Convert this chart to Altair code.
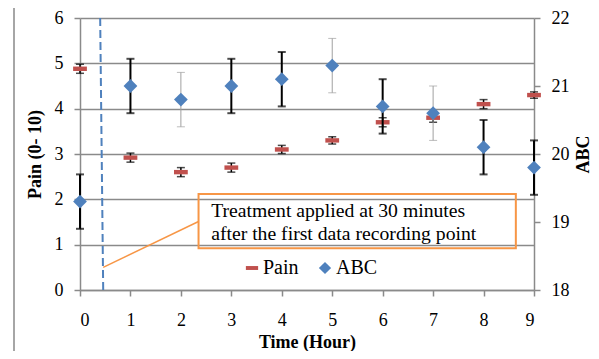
import altair as alt
import pandas as pd

# ---- data ----
hours = [0, 1, 2, 3, 4, 5, 6, 7, 8, 9]
pain = [4.88, 2.92, 2.6, 2.7, 3.1, 3.3, 3.7, 3.8, 4.1, 4.3]
pain_err = [0.1, 0.1, 0.1, 0.1, 0.09, 0.08, 0.1, 0.1, 0.1, 0.07]
abc = [19.3, 21.0, 20.8, 21.0, 21.1, 21.3, 20.7, 20.6, 20.1, 19.8]
abc_err = [0.4, 0.4, 0.4, 0.4, 0.4, 0.4, 0.4, 0.4, 0.4, 0.4]

pain_ticks = [0, 1, 2, 3, 4, 5, 6]
abc_ticks = [18, 19, 20, 21, 22]
series = ["Pain", "ABC"]
annotation_lines = ["Treatment applied at 30 minutes",
                    "after the first data recording point"]

# ---- styles / annotation placement (in data units) ----
abc_err_style = ["bold", "bold", "thin", "bold", "bold", "thin", "bold", "thin", "bold", "bold"]
series_colors = ["#c0504d", "#4f81bd"]
DASH = "M-1,-0.32H1V0.32H-1Z"
GRID = "#8a8a8a"
ORANGE = "#f79646"
FONT = "Liberation Serif"

treat_line = {"x": 0.40, "x2": 0.46, "y": 6, "y2": 0}
box = {"x": 2.35, "x2": 8.64, "y": 2.12, "y2": 0.92}
note = {"x": 2.6, "y": 1.62}
connector = {"x": 0.46, "x2": 2.35, "y": 0.5, "y2": 1.51}

pain_df = pd.DataFrame({
    "hour": hours, "value": pain,
    "lo": [v - e for v, e in zip(pain, pain_err)],
    "hi": [v + e for v, e in zip(pain, pain_err)],
    "series": "Pain",
})
abc_df = pd.DataFrame({
    "hour": hours, "value": abc,
    "lo": [v - e for v, e in zip(abc, abc_err)],
    "hi": [v + e for v, e in zip(abc, abc_err)],
    "series": "ABC", "style": abc_err_style,
})

xs = alt.Scale(domain=[0, 9], nice=False)
yls = alt.Scale(domain=[0, 6], nice=False)
yrs = alt.Scale(domain=[18, 22], nice=False)
AX_X = alt.Axis(values=hours, grid=False, orient="bottom", labelPadding=15, titlePadding=4)
AX_L = alt.Axis(values=pain_ticks, grid=True, orient="left", titlePadding=10)
AX_R = alt.Axis(values=abc_ticks, grid=False, orient="right", titleAngle=-90, titlePadding=23)


def X(f):
    return alt.X(f, scale=xs, axis=AX_X, title="Time (Hour)")


def YL(f):
    return alt.Y(f, scale=yls, axis=AX_L, title="Pain (0- 10)")


def YR(f):
    return alt.Y(f, scale=yrs, axis=AX_R, title="ABC")


color = alt.Color("series:N", scale=alt.Scale(domain=series, range=series_colors),
                  legend=alt.Legend(title=None))
shape = alt.Shape("series:N", scale=alt.Scale(domain=series, range=[DASH, "diamond"]),
                  legend=alt.Legend(title=None))

pb = alt.Chart(pain_df)
pain_rules = pb.mark_rule(color="black", strokeWidth=1.5).encode(
    x=X("hour:Q"), y=YL("lo:Q"), y2="hi:Q")
pain_cap_lo = pb.mark_tick(orient="horizontal", size=8, thickness=1.5, color="black").encode(
    x=X("hour:Q"), y=YL("lo:Q"))
pain_cap_hi = pb.mark_tick(orient="horizontal", size=8, thickness=1.5, color="black").encode(
    x=X("hour:Q"), y=YL("hi:Q"))
pain_pts = pb.mark_point(filled=True, size=190, opacity=1, strokeWidth=0).encode(
    x=X("hour:Q"), y=YL("value:Q"), color=color, shape=shape)

tl = alt.Chart(pd.DataFrame([treat_line])).mark_rule(
    color="#4f81bd", strokeWidth=2, strokeDash=[8, 4]).encode(
    x=X("x:Q"), x2="x2:Q", y=YL("y:Q"), y2="y2:Q")
bx = alt.Chart(pd.DataFrame([box])).mark_rect(
    fillOpacity=0, stroke=ORANGE, strokeWidth=2).encode(
    x=X("x:Q"), x2="x2:Q", y=YL("y:Q"), y2="y2:Q")
tx = alt.Chart(pd.DataFrame([{**note, "t": annotation_lines}])).mark_text(
    align="left", baseline="alphabetic", font=FONT, fontSize=19.7, lineHeight=23,
    color="black").encode(x=X("x:Q"), y=YL("y:Q"), text="t")
cn = alt.Chart(pd.DataFrame([connector])).mark_rule(color=ORANGE, strokeWidth=1.5).encode(
    x=X("x:Q"), x2="x2:Q", y=YL("y:Q"), y2="y2:Q")
frame = alt.Chart(pd.DataFrame({"a": [0]})).mark_rule(color="#a6a6a6", strokeWidth=2).encode(
    x=alt.value(-66), y=alt.value(-10), y2=alt.value(345))

left = alt.layer(pain_rules, pain_cap_lo, pain_cap_hi, pain_pts, tl, bx, tx, cn, frame)

ab = alt.Chart(abc_df)
thin = "datum.style == 'thin'"
abc_rules = ab.mark_rule().encode(
    x=X("hour:Q"), y=YR("lo:Q"), y2="hi:Q",
    color=alt.condition(thin, alt.value("#a0a0a0"), alt.value("black")),
    strokeWidth=alt.condition(thin, alt.value(1), alt.value(2)),
)
caps = []
for fld in ["lo", "hi"]:
    caps.append(ab.transform_filter("datum.style == 'bold'").mark_tick(
        orient="horizontal", size=8, thickness=2, color="black").encode(
        x=X("hour:Q"), y=YR(f"{fld}:Q")))
    caps.append(ab.transform_filter(thin).mark_tick(
        orient="horizontal", size=8, thickness=1, color="#a0a0a0").encode(
        x=X("hour:Q"), y=YR(f"{fld}:Q")))
abc_pts = ab.mark_point(filled=True, size=190, opacity=1, strokeWidth=0).encode(
    x=X("hour:Q"), y=YR("value:Q"), color=color, shape=shape)

right = alt.layer(abc_rules, *caps, abc_pts)

chart = alt.layer(left, right).resolve_scale(y="independent").properties(
    width=454, height=272,
    autosize=alt.AutoSizeParams(type="none"),
    padding={"left": 72, "top": 10, "right": 57, "bottom": 61},
).configure_view(strokeWidth=0).configure_axis(
    domainColor=GRID, domainWidth=1.5, tickColor=GRID, tickWidth=1.5, tickSize=6,
    gridColor=GRID, gridWidth=1.5, gridOpacity=1,
    labelFont=FONT, labelFontSize=18, labelColor="black", labelPadding=11,
    titleFont=FONT, titleFontSize=18, titleFontWeight="bold", titleColor="black",
).configure_legend(
    orient="none", legendX=162, legendY=240, direction="horizontal",
    labelFont=FONT, labelFontSize=20, labelColor="black", symbolSize=150,
    symbolStrokeWidth=0, columnPadding=16, labelOffset=1, padding=0,
)

chart.save("out.html", embed_options={"renderer": "svg", "actions": False})
